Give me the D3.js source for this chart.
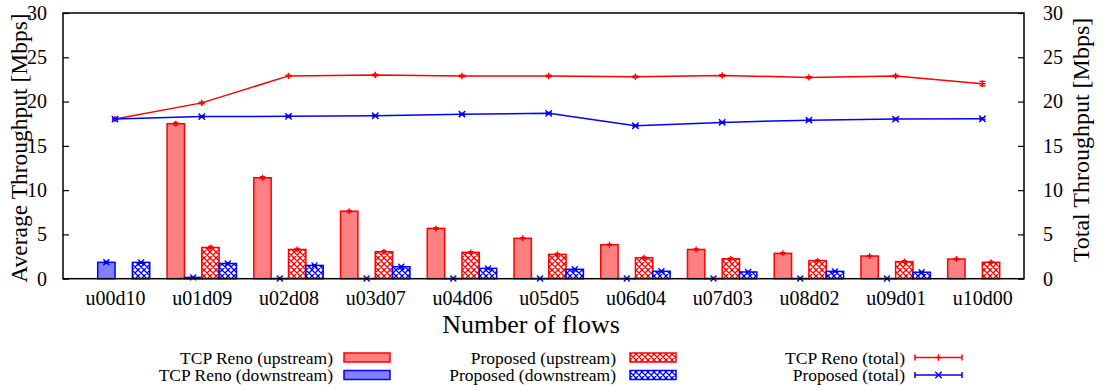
<!DOCTYPE html>
<html>
<head>
<meta charset="utf-8">
<script src="https://cdn.jsdelivr.net/npm/d3@7"></script>
<style>
  html, body { margin: 0; padding: 0; background: #fff; }
  svg { display: block; }
</style>
</head>
<body>
<svg id="chart" width="1105" height="391"></svg>
<script>
// Flow mixes: uXXdYY = XX upstream flows, YY downstream flows
const categories = ["u00d10", "u01d09", "u02d08", "u03d07", "u04d06", "u05d05",
                    "u06d04", "u07d03", "u08d02", "u09d01", "u10d00"];

// Average per-flow throughput [Mbps] (null = no flows in that direction)
const renoUp     = [null, 17.5, 11.4, 7.62, 5.68, 4.56, 3.84, 3.3, 2.86, 2.56, 2.22];
const renoDown   = [1.85, 0.15, 0.02, 0.02, 0.02, 0.02, 0.02, 0.02, 0.02, 0.02, null];
const propUp     = [null, 3.52, 3.3, 3.05, 2.97, 2.75, 2.37, 2.25, 2.04, 1.93, 1.85];
const propDown   = [1.84, 1.72, 1.5, 1.35, 1.17, 1.06, 0.84, 0.76, 0.83, 0.73, null];

const renoUpErr   = [0, 0.15, 0.12, 0.1, 0.1, 0.08, 0.08, 0.08, 0.08, 0.08, 0.08];
const renoDownErr = [0.1, 0.05, 0.02, 0.02, 0.02, 0.02, 0.02, 0.02, 0.02, 0.02, 0];
const propUpErr   = [0, 0.12, 0.12, 0.12, 0.1, 0.1, 0.1, 0.1, 0.1, 0.1, 0.1];
const propDownErr = [0.1, 0.08, 0.08, 0.08, 0.06, 0.06, 0.06, 0.06, 0.06, 0.06, 0];

// Total throughput [Mbps]
const renoTotal    = [18.02, 19.85, 22.9, 23.0, 22.88, 22.88, 22.8, 22.95, 22.73, 22.88, 22.02];
const propTotal    = [18.02, 18.3, 18.33, 18.4, 18.58, 18.67, 17.27, 17.65, 17.9, 18.02, 18.06];
const renoTotalErr = [0.1, 0.1, 0.1, 0.1, 0.1, 0.1, 0.1, 0.1, 0.1, 0.1, 0.25];
const propTotalErr = [0.1, 0.1, 0.1, 0.1, 0.1, 0.1, 0.1, 0.1, 0.1, 0.1, 0.1];

const yTicks = [0, 5, 10, 15, 20, 25, 30];

const RED = "#ff0000", BLUE = "#0000ff";
const FONT = "'Liberation Serif'";
const plot = { left: 63, right: 1024, top: 13, bottom: 278.7 };

const svg = d3.select("#chart");

// Cross-hatch fills for the "Proposed" bars
const defs = svg.append("defs");
[["hatchRed", RED], ["hatchBlue", BLUE]].forEach(([id, col]) => {
  const p = defs.append("pattern").attr("id", id)
    .attr("patternUnits", "userSpaceOnUse").attr("width", 6).attr("height", 6);
  p.append("rect").attr("width", 6).attr("height", 6).attr("fill", "#fff");
  p.append("path").attr("d", "M-1,-1L7,7M-1,7L7,-1M5,-1L7,1M-1,5L1,7M-1,1L1,-1M5,7L7,5")
    .attr("stroke", col).attr("stroke-width", 1.3).attr("fill", "none");
});

const x = d3.scaleLinear().domain([-0.6, 10.48]).range([plot.left, plot.right]);
const y = d3.scaleLinear().domain([0, 30]).range([plot.bottom, plot.top]);
const y2 = d3.scaleLinear().domain([0, 30]).range([plot.bottom, plot.top]);

const g = svg.append("g");

// Bars: four per group, each 0.2 wide, group spanning [i-0.4, i+0.4]
const barSeries = [
  { vals: renoUp,   err: renoUpErr,   off: -0.4, fill: "#ff8080", stroke: RED,  mark: "plus" },
  { vals: renoDown, err: renoDownErr, off: -0.2, fill: "#8080ff", stroke: BLUE, mark: "cross" },
  { vals: propUp,   err: propUpErr,   off: 0.0,  fill: "url(#hatchRed)",  stroke: RED,  mark: "plus" },
  { vals: propDown, err: propDownErr, off: 0.2,  fill: "url(#hatchBlue)", stroke: BLUE, mark: "cross" }
];

function markerPath(type, cx, cy, s) {
  if (type === "plus") return `M${cx - s},${cy}H${cx + s}M${cx},${cy - s}V${cy + s}`;
  return `M${cx - s},${cy - s}L${cx + s},${cy + s}M${cx - s},${cy + s}L${cx + s},${cy - s}`;
}

function errorBar(sel, cx, v, e, col, cap) {
  sel.append("path")
    .attr("d", `M${cx},${y(v - e)}V${y(v + e)}M${cx - cap},${y(v - e)}H${cx + cap}M${cx - cap},${y(v + e)}H${cx + cap}`)
    .attr("stroke", col).attr("stroke-width", 1.2).attr("fill", "none");
}

barSeries.forEach(s => {
  const data = s.vals.map((v, i) => ({ v, i, e: s.err[i] })).filter(d => d.v !== null);
  g.selectAll(null).data(data).enter().append("rect")
    .attr("x", d => x(d.i + s.off))
    .attr("y", d => y(d.v))
    .attr("width", d => x(d.i + s.off + 0.2) - x(d.i + s.off))
    .attr("height", d => y(0) - y(d.v))
    .attr("fill", s.fill).attr("stroke", s.stroke).attr("stroke-width", 1.5);
});
barSeries.forEach(s => {
  s.vals.forEach((v, i) => {
    if (v === null) return;
    const cx = x(i + s.off + 0.1);
    errorBar(g, cx, v, s.err[i], s.stroke, 2.5);
    g.append("path").attr("d", markerPath(s.mark, cx, y(v), 3))
      .attr("stroke", s.stroke).attr("stroke-width", 1.3).attr("fill", "none");
  });
});

// Total throughput lines on the right axis
const line = d3.line().x((d, i) => x(i)).y(d => y2(d));
[
  { vals: renoTotal, err: renoTotalErr, col: RED,  mark: "plus" },
  { vals: propTotal, err: propTotalErr, col: BLUE, mark: "cross" }
].forEach(s => {
  g.append("path").datum(s.vals).attr("d", line)
    .attr("fill", "none").attr("stroke", s.col).attr("stroke-width", 1.5);
  s.vals.forEach((v, i) => {
    const cx = x(i);
    errorBar(g, cx, v, s.err[i], s.col, 3);
    g.append("path").attr("d", markerPath(s.mark, cx, y2(v), 3.2))
      .attr("stroke", s.col).attr("stroke-width", 1.4).attr("fill", "none");
  });
});

// Frame
svg.append("rect")
  .attr("x", plot.left).attr("y", plot.top)
  .attr("width", plot.right - plot.left).attr("height", plot.bottom - plot.top)
  .attr("fill", "none").attr("stroke", "#000").attr("stroke-width", 1.5);

function serif(sel, size) {
  return sel.style("font-family", FONT).style("font-size", size + "px").attr("fill", "#000");
}

function styleAxis(sel) {
  sel.attr("font-family", null).attr("font-size", null);
  sel.select(".domain").remove();
  serif(sel.selectAll("text"), 20);
  sel.selectAll("line").attr("stroke", "#000").attr("stroke-width", 1.2);
}

// Left axis (ticks point inward)
const yAxisL = d3.axisLeft(y).tickValues(yTicks).tickSizeInner(-6).tickSizeOuter(0).tickPadding(16);
svg.append("g").attr("transform", `translate(${plot.left},0)`).call(yAxisL).call(styleAxis);

// Right axis
const yAxisR = d3.axisRight(y2).tickValues(yTicks).tickSizeInner(-6).tickSizeOuter(0).tickPadding(19);
svg.append("g").attr("transform", `translate(${plot.right},0)`).call(yAxisR).call(styleAxis);

// Category labels
const xAxis = d3.axisBottom(x).tickValues(d3.range(categories.length))
  .tickFormat(i => categories[i]).tickSize(0).tickPadding(12);
svg.append("g").attr("transform", `translate(0,${plot.bottom})`).call(xAxis).call(styleAxis);

// Axis titles
serif(svg.append("text").attr("x", 531).attr("y", 333).attr("text-anchor", "middle"), 26)
  .text("Number of flows");
serif(svg.append("text").attr("transform", `translate(27,148) rotate(-90)`).attr("text-anchor", "middle"), 23.5)
  .text("Average Throughput [Mbps]");
serif(svg.append("text").attr("transform", `translate(1089,140) rotate(-90)`).attr("text-anchor", "middle"), 24)
  .text("Total Throughput [Mbps]");

// Legend
const legendItems = [
  { label: "TCP Reno (upstream)",   kind: "bar",  fill: "#ff8080", col: RED,  col0: 0, row: 0 },
  { label: "TCP Reno (downstream)", kind: "bar",  fill: "#8080ff", col: BLUE, col0: 0, row: 1 },
  { label: "Proposed (upstream)",   kind: "bar",  fill: "url(#hatchRed)",  col: RED,  col0: 1, row: 0 },
  { label: "Proposed (downstream)", kind: "bar",  fill: "url(#hatchBlue)", col: BLUE, col0: 1, row: 1 },
  { label: "TCP Reno (total)",      kind: "line", col: RED,  mark: "plus",  col0: 2, row: 0 },
  { label: "Proposed (total)",      kind: "line", col: BLUE, mark: "cross", col0: 2, row: 1 }
];
const legendCols = [
  { textEnd: 333, x0: 344, x1: 390 },
  { textEnd: 616, x0: 630, x1: 676 },
  { textEnd: 905, x0: 915, x1: 962 }
];
const rowY = [357.5, 375];
const lg = svg.append("g");
legendItems.forEach(it => {
  const c = legendCols[it.col0], cy = rowY[it.row];
  serif(lg.append("text").attr("x", c.textEnd).attr("y", cy + 6).attr("text-anchor", "end"), 17.5)
    .text(it.label);
  if (it.kind === "bar") {
    lg.append("rect").attr("x", c.x0).attr("y", cy - 4.5)
      .attr("width", c.x1 - c.x0).attr("height", 9)
      .attr("fill", it.fill).attr("stroke", it.col).attr("stroke-width", 1.5);
  } else {
    const mid = (c.x0 + c.x1) / 2;
    lg.append("path").attr("d", `M${c.x0},${cy}H${c.x1}M${c.x0},${cy - 3}V${cy + 3}M${c.x1},${cy - 3}V${cy + 3}`)
      .attr("stroke", it.col).attr("stroke-width", 1.5).attr("fill", "none");
    lg.append("path").attr("d", markerPath(it.mark, mid, cy, 3.2))
      .attr("stroke", it.col).attr("stroke-width", 1.4).attr("fill", "none");
  }
});
</script>
</body>
</html>
